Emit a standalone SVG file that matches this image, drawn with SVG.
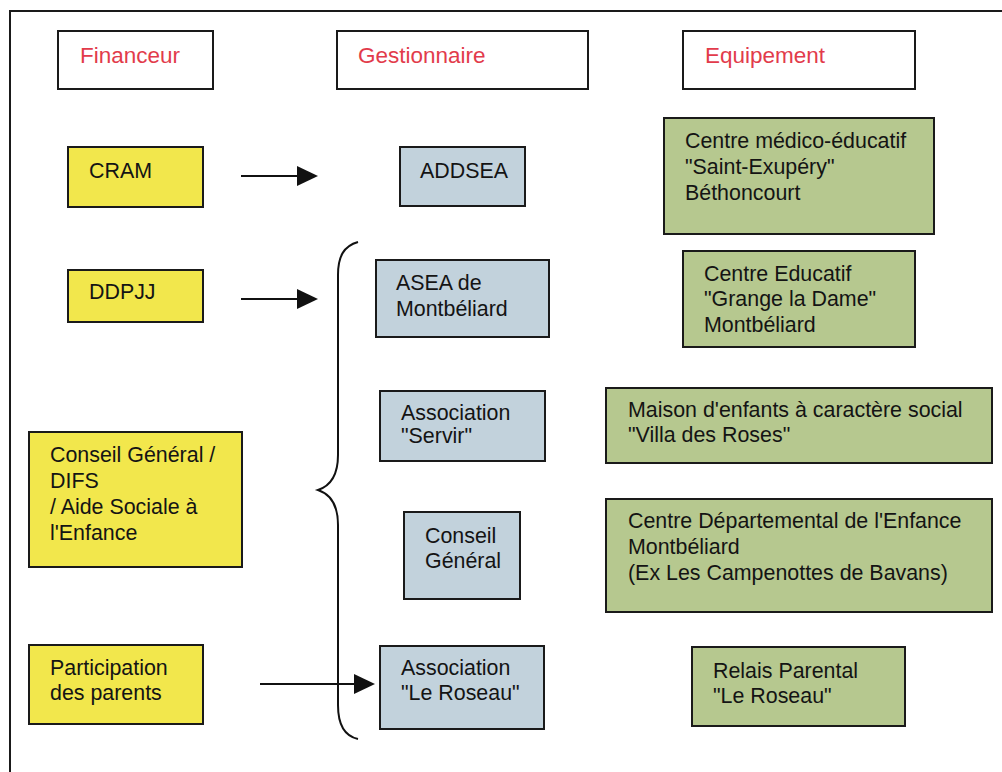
<svg xmlns="http://www.w3.org/2000/svg" width="1002" height="772" viewBox="0 0 1002 772">
<style>
  .box{stroke:#1a1a1a;stroke-width:2}
  .hdr{fill:#ffffff}
  .fin{fill:#f2e74c}
  .ges{fill:#c2d2dc}
  .eq{fill:#b6c88f}
  text{font-family:"Liberation Sans",Arial,sans-serif;font-size:21.4px;fill:#141414}
  .red{fill:#e23b4b;font-size:22.5px}
  .conn{stroke:#111;stroke-width:2;fill:none}
  .head{fill:#111}
</style>
<rect x="0" y="0" width="1002" height="772" fill="#ffffff"/>
<path d="M10,772 L10,11 L1002,11" fill="none" stroke="#1a1a1a" stroke-width="2"/>

<g id="h-financeur"><rect class="box hdr" x="58" y="31" width="155" height="58"/><text class="red" x="80" y="63">Financeur</text></g>
<g id="h-gestionnaire"><rect class="box hdr" x="337" y="31" width="251" height="58"/><text class="red" x="358" y="63">Gestionnaire</text></g>
<g id="h-equipement"><rect class="box hdr" x="683" y="31" width="232" height="58"/><text class="red" x="705" y="63">Equipement</text></g>

<g id="cram"><rect class="box fin" x="68" y="147" width="135" height="60"/><text x="89" y="178">CRAM</text></g>
<g id="ddpjj"><rect class="box fin" x="68" y="270" width="135" height="52"/><text x="89" y="299">DDPJJ</text></g>
<g id="cg-difs"><rect class="box fin" x="29" y="432" width="213" height="135"/><text x="50" y="462">Conseil Général /</text><text x="50" y="488">DIFS</text><text x="50" y="514">/ Aide Sociale à</text><text x="50" y="540">l'Enfance</text></g>
<g id="participation"><rect class="box fin" x="29" y="645" width="174" height="79"/><text x="50" y="675">Participation</text><text x="50" y="700">des parents</text></g>

<g id="addsea"><rect class="box ges" x="400" y="147" width="125" height="59"/><text x="420" y="178">ADDSEA</text></g>
<g id="asea"><rect class="box ges" x="376" y="260" width="173" height="77"/><text x="396" y="290">ASEA de</text><text x="396" y="316">Montbéliard</text></g>
<g id="servir"><rect class="box ges" x="380" y="391" width="165" height="70"/><text x="401" y="420">Association</text><text x="401" y="443">"Servir"</text></g>
<g id="cg-gest"><rect class="box ges" x="404" y="512" width="116" height="87"/><text x="425" y="543">Conseil</text><text x="425" y="568">Général</text></g>
<g id="roseau-gest"><rect class="box ges" x="380" y="646" width="164" height="83"/><text x="401" y="675">Association</text><text x="401" y="700">"Le Roseau"</text></g>

<g id="cme"><rect class="box eq" x="664" y="118" width="270" height="116"/><text x="685" y="148">Centre médico-éducatif</text><text x="685" y="174">"Saint-Exupéry"</text><text x="685" y="200">Béthoncourt</text></g>
<g id="ce"><rect class="box eq" x="683" y="251" width="232" height="96"/><text x="704" y="281">Centre Educatif</text><text x="704" y="306">"Grange la Dame"</text><text x="704" y="332">Montbéliard</text></g>
<g id="mecs"><rect class="box eq" x="606" y="388" width="386" height="75"/><text x="628" y="417">Maison d'enfants à caractère social</text><text x="628" y="442">"Villa des Roses"</text></g>
<g id="cde"><rect class="box eq" x="606" y="499" width="386" height="113"/><text x="628" y="528">Centre Départemental de l'Enfance</text><text x="628" y="554">Montbéliard</text><text x="628" y="580">(Ex Les Campenottes de Bavans)</text></g>
<g id="relais"><rect class="box eq" x="692" y="647" width="213" height="79"/><text x="713" y="678">Relais Parental</text><text x="713" y="703">"Le Roseau"</text></g>

<g id="connectors">
  <path class="conn" d="M241,176 L298,176"/><path class="head" d="M297,166 L318,176 L297,186 Z"/>
  <path class="conn" d="M241,299 L298,299"/><path class="head" d="M297,289 L318,299 L297,309 Z"/>
  <path class="conn" d="M260,684 L355,684"/><path class="head" d="M354,674 L375,684 L354,694 Z"/>
  <path class="conn" d="M358,242 C344,246 338,256 338,275 L338,455 C338,476 330,486 318,490 C330,494 338,504 338,525 L338,705 C338,724 344,736 358,739"/>
</g>
</svg>
